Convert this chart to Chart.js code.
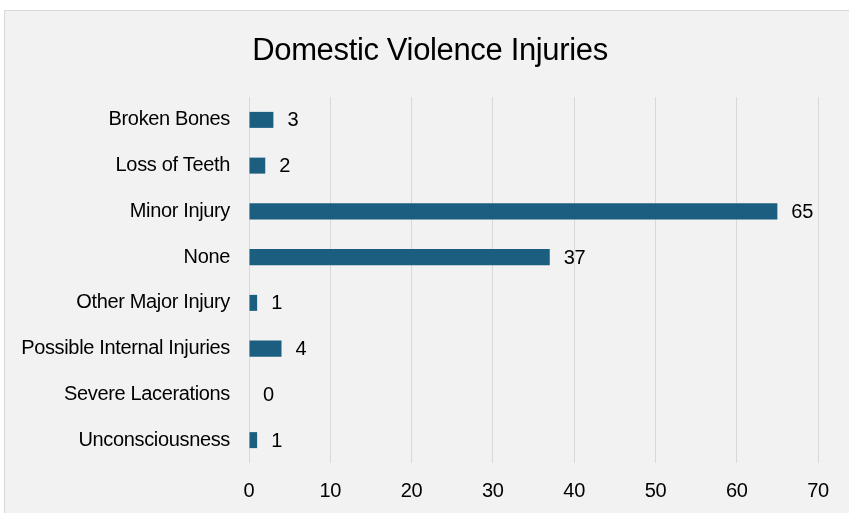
<!DOCTYPE html>
<html>
<head>
<meta charset="utf-8">
<script src="https://cdn.jsdelivr.net/npm/chart.js@4"></script>
<style>
  html, body { margin: 0; padding: 0; background: #ffffff; overflow: hidden; }
  #box {
    position: absolute; left: 4px; top: 10px;
    width: 850px; height: 510px;
    background: #f2f2f2; border: 1px solid #d9d9d9;
  }
  #wrap { position: absolute; left: 0; top: 0; width: 845px; height: 502px; }
</style>
</head>
<body>
<div id="box"><div id="wrap"><canvas id="grafico"></canvas></div></div>
<script>
let titulo = "Domestic Violence Injuries";
let categorias = [
  "Broken Bones",
  "Loss of Teeth",
  "Minor Injury",
  "None",
  "Other Major Injury",
  "Possible Internal Injuries",
  "Severe Lacerations",
  "Unconsciousness",
];
let valores = [3, 2, 65, 37, 1, 4, 0, 1];
let ticksX = [0, 10, 20, 30, 40, 50, 60, 70];

const fonte = "'Liberation Sans', Arial, sans-serif";

// texto mais apertado, como no original
const espacamento = {
  id: "espacamento",
  beforeLayout(chart) { chart.ctx.letterSpacing = "-0.35px"; },
  beforeDraw(chart) { chart.ctx.letterSpacing = "-0.35px"; },
};

// titulo centrado na caixa toda (nao so na area com padding)
const tituloPlugin = {
  id: "tituloPlugin",
  afterDraw(chart) {
    const ctx = chart.ctx;
    ctx.save();
    ctx.font = "31px " + fonte;
    ctx.fillStyle = "#000000";
    ctx.textAlign = "center";
    ctx.textBaseline = "middle";
    ctx.fillText(titulo, 425, 40);
    ctx.restore();
  },
};

// rotulos de valor no fim de cada barra
const rotulos = {
  id: "rotulos",
  afterDatasetsDraw(chart) {
    const ctx = chart.ctx;
    const meta = chart.getDatasetMeta(0);
    ctx.save();
    ctx.font = "20px " + fonte;
    ctx.fillStyle = "#000000";
    ctx.textAlign = "left";
    ctx.textBaseline = "middle";
    meta.data.forEach(function (bar, i) {
      ctx.fillText(String(valores[i]), bar.x + 14, bar.y + 1);
    });
    ctx.restore();
  },
};

new Chart(document.getElementById("grafico"), {
  type: "bar",
  data: {
    labels: categorias,
    datasets: [
      {
        data: valores,
        backgroundColor: "#1b5e80",
        categoryPercentage: 1,
        barPercentage: 0.35,
      },
    ],
  },
  options: {
    indexAxis: "y",
    responsive: true,
    maintainAspectRatio: false,
    animation: false,
    layout: { padding: { top: 86, right: 32, bottom: 0, left: 0 } },
    plugins: {
      legend: { display: false },
      tooltip: { enabled: false },
      title: { display: false },
    },
    scales: {
      x: {
        min: 0,
        max: 70,
        afterBuildTicks(axis) {
          axis.ticks = ticksX.map(function (v) { return { value: v }; });
        },
        afterFit(axis) { axis.height = 50; },
        grid: { color: "#d9d9d9", lineWidth: 1, drawTicks: false },
        border: { display: false },
        ticks: {
          color: "#000000",
          padding: 16,
          font: { family: fonte, size: 20 },
        },
      },
      y: {
        afterFit(axis) { axis.width = 244; },
        grid: { display: false, drawTicks: false },
        border: { display: false },
        ticks: {
          color: "#000000",
          padding: 19,
          font: { family: fonte, size: 20 },
        },
      },
    },
  },
  plugins: [espacamento, tituloPlugin, rotulos],
});
</script>
</body>
</html>
